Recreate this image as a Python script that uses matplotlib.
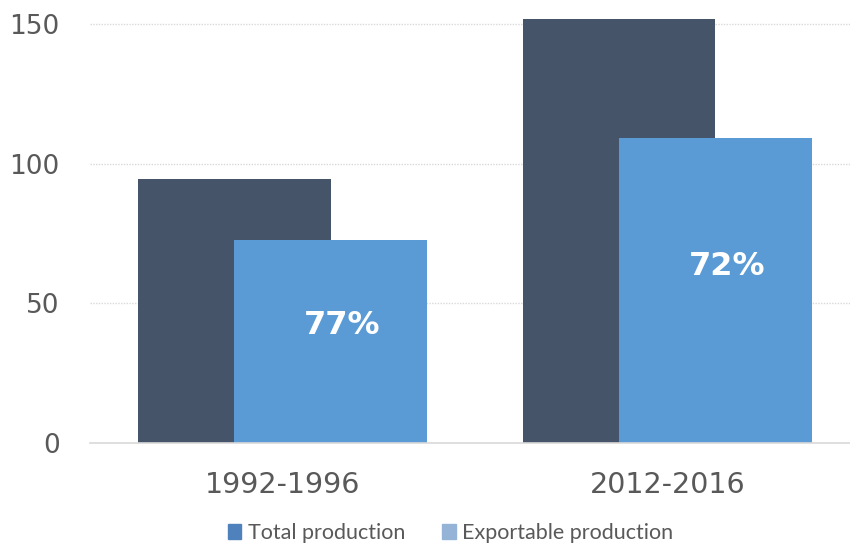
import numpy as np
import matplotlib.pyplot as plt
from matplotlib.patches import Patch

# data
periods = ["1992-1996", "2012-2016"]
total_production = [94.4, 151.9]
exportable_production = [72.6, 109.2]
share_labels = ["77%", "72%"]
y_ticks = [0, 50, 100, 150]

dark = "#465469"
blue = "#5b9bd5"
grey_text = "#595959"

fig = plt.figure(figsize=(8.5, 5.45), dpi=100)
ax = fig.add_axes([0.106, 0.187, 0.894, 0.81])

x = np.arange(len(periods))
w = 0.5
ax.bar(x - 0.125, total_production, width=w, color=dark, zorder=2)
bars = ax.bar(x + 0.125, exportable_production, width=w, color=blue, zorder=3)

for b, lab in zip(bars, share_labels):
    ax.text(b.get_x() + b.get_width() / 2 + 0.03, b.get_height() * 0.58, lab,
            ha="center", va="center", color="white", fontsize=23,
            fontweight="bold", family="DejaVu Sans", zorder=4)

ax.set_xlim(-0.5, 1.475)
ax.set_ylim(0, 158)
ax.set_yticks(y_ticks)
ax.set_xticks(x)
ax.set_xticklabels(periods)
ax.tick_params(axis="both", length=0, colors=grey_text)
ax.tick_params(axis="y", pad=22, labelsize=19)
ax.tick_params(axis="x", pad=20, labelsize=20.5)

ax.grid(axis="y", color="#d9d9d9", linestyle=(0, (1, 1)), linewidth=1, zorder=0)
ax.set_axisbelow(True)
for s in ["top", "right", "left"]:
    ax.spines[s].set_visible(False)
ax.spines["bottom"].set_color("#d9d9d9")
ax.spines["bottom"].set_linewidth(1.2)
ax.spines["bottom"].set_zorder(5)

handles = [Patch(color="#4f81bd", label="Total production"),
           Patch(color="#95b3d7", label="Exportable production")]
fig.legend(handles=handles, loc="center", bbox_to_anchor=(0.53, 0.022), ncol=2,
           frameon=False, handlelength=0.65, handleheight=0.75, handletextpad=0.3,
           columnspacing=1.7, prop={"family": "Lato", "size": 15.5},
           labelcolor=grey_text)

fig.savefig("out.png", dpi=100)
